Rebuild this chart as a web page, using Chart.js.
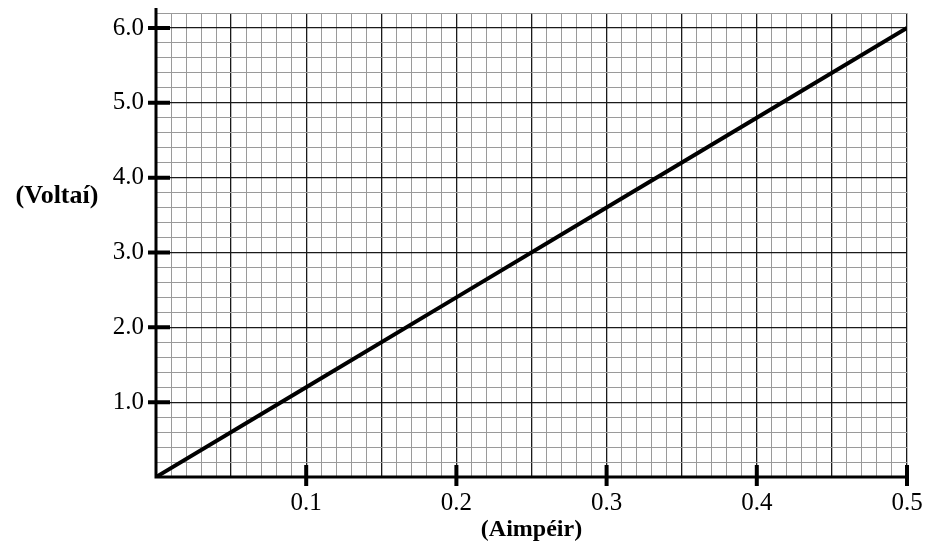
<!DOCTYPE html>
<html>
<head>
<meta charset="utf-8">
<script src="https://cdn.jsdelivr.net/npm/chart.js@4.4.1/dist/chart.umd.min.js"></script>
<style>
  html, body { margin: 0; padding: 0; background: #fff; }
  #wrap { width: 928px; height: 548px; position: relative; }
</style>
</head>
<body>
<div id="wrap"><canvas id="graph"></canvas></div>
<script>
// DATA
const currentAmps = [0, 0.1, 0.2, 0.3, 0.4, 0.5];
const voltages = [0, 1.2, 2.4, 3.6, 4.8, 6.0];
const xTickLabels = ['0.1', '0.2', '0.3', '0.4', '0.5'];
const yTickLabels = ['1.0', '2.0', '3.0', '4.0', '5.0', '6.0'];
const xTitle = '(Aimpéir)';
const yTitle = '(Voltaí)';

const serif = "'Liberation Serif', 'Times New Roman', serif";

// x: minor every 0.01, dark every 0.05 ; y: minor every 0.2, dark every 1.0
const isMajorX = v => Math.round(v * 100) % 5 === 0;
const isMajorY = v => Math.round(v * 10) % 10 === 0;

// AXES + THICK TICK MARKS
const axesPlugin = {
  id: 'axes',
  afterDraw(chart) {
    const ctx = chart.ctx;
    const xs = chart.scales.x, ys = chart.scales.y;
    const x0 = xs.getPixelForValue(0), y0 = ys.getPixelForValue(0);
    const xEnd = xs.getPixelForValue(xs.max), yTop = ys.getPixelForValue(ys.max);
    ctx.save();
    ctx.strokeStyle = '#000';
    ctx.lineCap = 'butt';
    ctx.lineWidth = 3;
    ctx.beginPath();
    ctx.moveTo(x0, y0 + 1.5);
    ctx.lineTo(x0, yTop - 5);
    ctx.moveTo(x0 - 1.5, y0);
    ctx.lineTo(xEnd + 1, y0);
    ctx.stroke();

    ctx.lineWidth = 4;
    ctx.beginPath();
    xTickLabels.forEach(l => {
      const px = xs.getPixelForValue(parseFloat(l));
      ctx.moveTo(px, y0 - 12);
      ctx.lineTo(px, y0 + 9);
    });
    yTickLabels.forEach(l => {
      const py = ys.getPixelForValue(parseFloat(l));
      ctx.moveTo(x0 - 8, py);
      ctx.lineTo(x0 + 14, py);
    });
    ctx.stroke();

    // y title sits horizontally left of the axis
    ctx.fillStyle = '#000';
    ctx.font = 'bold 26px ' + serif;
    ctx.textAlign = 'center';
    ctx.textBaseline = 'middle';
    ctx.fillText(yTitle, 57, ys.getPixelForValue(3.75));
    ctx.restore();
  }
};

new Chart(document.getElementById('graph'), {
  type: 'scatter',
  data: {
    datasets: [{
      data: currentAmps.map((a, i) => ({ x: a, y: voltages[i] })),
      showLine: true,
      borderColor: '#000',
      borderWidth: 4,
      pointRadius: 0,
      fill: false
    }]
  },
  options: {
    responsive: true,
    maintainAspectRatio: false,
    animation: false,
    layout: { padding: { top: 13, right: 21, left: 0, bottom: 0 } },
    plugins: { legend: { display: false }, tooltip: { enabled: false } },
    scales: {
      x: {
        type: 'linear',
        min: 0,
        max: 0.5,
        afterFit: s => { s.height = 71; s.paddingLeft = 0; s.paddingRight = 0; },
        border: { display: false },
        grid: {
          drawTicks: false,
          color: c => isMajorX(c.tick.value) ? '#1a1a1a' : '#9a9a9a',
          lineWidth: c => isMajorX(c.tick.value) ? 1.3 : 1
        },
        ticks: {
          stepSize: 0.01,
          autoSkip: false,
          maxRotation: 0,
          padding: 11,
          color: '#000',
          font: { family: serif, size: 25 },
          callback: v => {
            const l = (Math.round(v * 100) / 100).toFixed(1);
            return (Math.round(v * 100) % 10 === 0 && xTickLabels.includes(l)) ? l : '';
          }
        },
        title: {
          display: true,
          text: xTitle,
          color: '#000',
          font: { family: serif, size: 24, weight: 'bold' },
          padding: { top: 0, bottom: 4 }
        }
      },
      y: {
        type: 'linear',
        min: 0,
        max: 6.2,
        afterFit: s => { s.width = 156; s.paddingTop = 0; s.paddingBottom = 0; },
        border: { display: false },
        grid: {
          drawTicks: false,
          color: c => isMajorY(c.tick.value) ? '#1a1a1a' : '#9a9a9a',
          lineWidth: c => isMajorY(c.tick.value) ? 1.3 : 1
        },
        ticks: {
          stepSize: 0.2,
          autoSkip: false,
          padding: 12,
          color: '#000',
          font: { family: serif, size: 25 },
          callback: v => {
            const l = (Math.round(v * 10) / 10).toFixed(1);
            return (Math.round(v * 10) % 10 === 0 && yTickLabels.includes(l)) ? l : '';
          }
        }
      }
    }
  },
  plugins: [axesPlugin]
});
</script>
</body>
</html>
